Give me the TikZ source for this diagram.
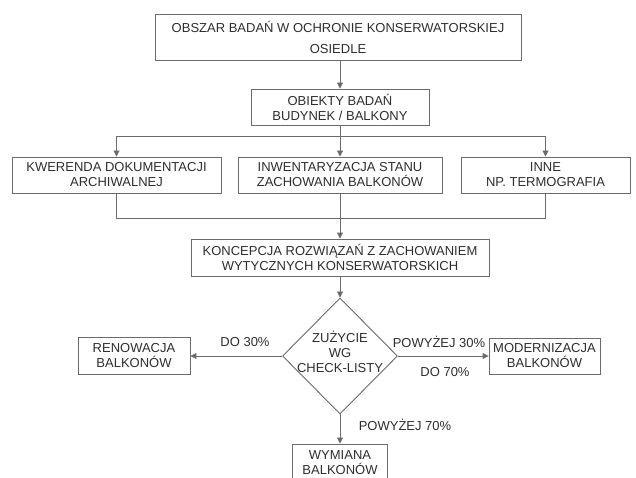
\documentclass[tikz,border=0pt]{standalone}
\usepackage{fontspec}
\setmainfont{Liberation Sans}
\usetikzlibrary{positioning, arrows.meta, shapes.geometric}
\definecolor{linegray}{gray}{0.42}
\definecolor{textgray}{gray}{0.18}

\begin{document}
\begin{tikzpicture}[
		x=1pt, y=-1pt,
		every box/.style={rectangle, draw=linegray, line width=0.9pt, text=textgray, align=center, inner sep=0pt, font=\fontsize{13}{15}\selectfont, minimum height=36pt},
		top box/.style={font=\fontsize{13}{21}\selectfont, minimum height=46pt},
		decision/.style={diamond, draw=linegray, line width=0.9pt, inner sep=0pt, minimum width=115pt, minimum height=116pt},
		branch label/.style={text=textgray, font=\fontsize{13}{15}\selectfont, inner sep=0pt},
		connector/.style={draw=linegray, line width=0.9pt},
		>={Triangle[length=6pt, width=6pt]}
	]
	\useasboundingbox (0, 0) rectangle (636, 478);
	\clip (0, 0) rectangle (636, 478);

	\node [every box, top box, minimum width=366pt] (obszar) at (338, 37) {OBSZAR BADAŃ W OCHRONIE KONSERWATORSKIEJ\\OSIEDLE};
	\node [every box, minimum width=178pt] (obiekty) at (340, 107) {OBIEKTY BADAŃ\\BUDYNEK / BALKONY};

	\foreach \n/\x/\w/\t in {kwerenda/116.5/209pt/{KWERENDA DOKUMENTACJI\\ARCHIWALNEJ}, inwentaryzacja/340/204pt/{INWENTARYZACJA STANU\\ZACHOWANIA BALKONÓW}, inne/545.5/169pt/{INNE\\NP. TERMOGRAFIA}}
		\node [every box, minimum width=\w] (\n) at (\x, 175) {\t};

	\node [every box, minimum width=298pt, minimum height=37pt] (koncepcja) at (340, 257.5) {KONCEPCJA ROZWIĄZAŃ Z ZACHOWANIEM\\WYTYCZNYCH KONSERWATORSKICH};
	\node [decision, label={[branch label, align=center, yshift=4pt]center:{ZUŻYCIE\\WG\\CHECK-LISTY}}] (zuzycie) at (340, 356) {};

	\node [every box, minimum width=112pt, minimum height=37pt] (renowacja) at (134, 356) {RENOWACJA\\BALKONÓW};
	\node [every box, minimum width=111pt, minimum height=36pt] (modernizacja) at (544.5, 356) {MODERNIZACJA\\BALKONÓW};
	\node [every box, minimum width=95pt, minimum height=38pt] (wymiana) at (340, 463) {WYMIANA\\BALKONÓW};

	\coordinate (split) at (340, 136);
	\coordinate (merge) at (340, 218);

	\draw [connector, ->] (obszar.south -| obiekty) -- (obiekty);
	\draw [connector, ->] (obiekty) -- (inwentaryzacja);
	\draw [connector, ->] (split) -| (kwerenda);
	\draw [connector, ->] (split) -| (inne);
	\draw [connector] (kwerenda) |- (merge);
	\draw [connector] (inne) |- (merge);
	\draw [connector, ->] (inwentaryzacja) -- (koncepcja);
	\draw [connector, ->] (koncepcja) -- (zuzycie);
	\draw [connector, ->] (zuzycie) -- (renowacja);
	\draw [connector, ->] (zuzycie) -- (modernizacja);
	\draw [connector, ->] (zuzycie) -- (wymiana);

	\node [branch label] (do30) at (245, 342) {DO 30\%};
	\node [branch label] (pow30) at (439, 342) {POWYŻEJ 30\%};
	\node [branch label] (do70) at (445, 372) {DO 70\%};
	\node [branch label] (pow70) at (405, 425) {POWYŻEJ 70\%};
\end{tikzpicture}
\end{document}
